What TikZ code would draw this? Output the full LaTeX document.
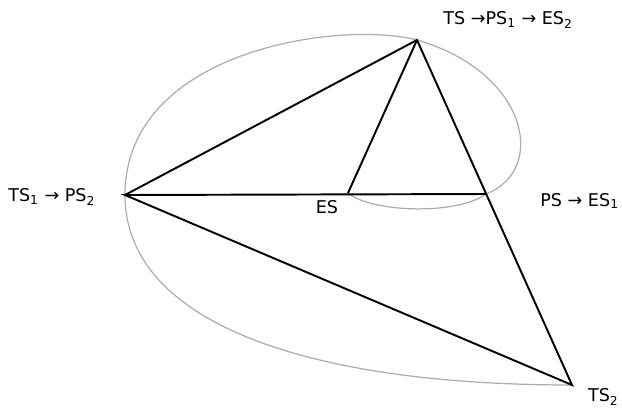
\documentclass[tikz,border=0pt]{standalone}
\usepackage{fontspec}
\setmainfont{DejaVu Sans}
\usetikzlibrary{positioning}

\begin{document}
\begin{tikzpicture}[x=0.02cm, y=-0.02cm,
      edge/.style={line width=1.1pt, black},
      trail/.style={line width=0.7pt, gray!65},
      lbl/.style={font=\fontsize{10}{12}\selectfont, inner sep=0pt}]
    \useasboundingbox (0,0) rectangle (622,407);
    \coordinate (ts)  at (417,40);
    \coordinate (ts1) at (125,195);
    \coordinate (es)  at (348,193);
    \coordinate (ps)  at (486,194);
    \coordinate (ts2) at (572,385);
    % reaction path
    \draw[trail] (es) .. controls (372,213) and (458,215) .. (ps)
      .. controls (548,170) and (528,72) .. (ts)
      .. controls (340,20) and (125,50) .. (ts1)
      .. controls (125,320) and (300,385) .. (ts2);
    \draw[edge] (ts1) -- (ts) -- (ts2) -- (ts1) -- (ps);
    \draw[edge] (es) -- (ts);
    \node[lbl, anchor=west] (tslbl)  at (443,20)  {TS →PS\textsubscript{1} → ES\textsubscript{2}};
    \node[lbl, anchor=west] (ts1lbl) at (8,197)   {TS\textsubscript{1} → PS\textsubscript{2}};
    \node[lbl] (eslbl)  at (327,207) {ES};
    \node[lbl, anchor=west] (pslbl)  at (540,201) {PS → ES\textsubscript{1}};
    \node[lbl, anchor=east] (ts2lbl) at (619,397) {TS\textsubscript{2}};
  \end{tikzpicture}
\end{document}
